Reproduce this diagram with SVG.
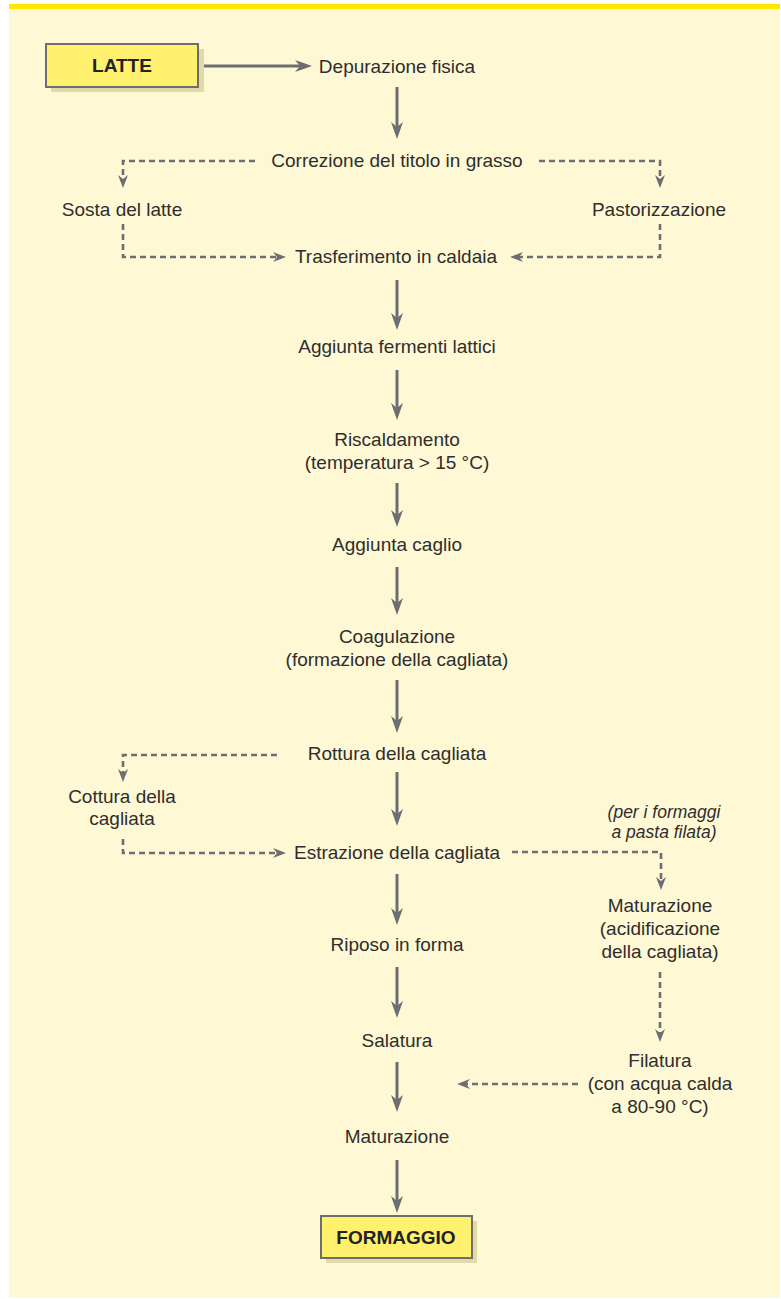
<svg xmlns="http://www.w3.org/2000/svg" width="781" height="1299" viewBox="0 0 781 1299">
<style>
.t{font-family:"Liberation Sans",Arial,sans-serif;font-size:19px;fill:#2e2e2e;text-anchor:middle}
.i{font-style:italic;font-size:17.5px}
.b{font-family:"Liberation Sans",Arial,sans-serif;font-size:19px;font-weight:bold;fill:#222;text-anchor:middle}
.box{fill:#FFF06E;stroke:#6D6E71;stroke-width:2}
.sh{fill:#E2DAA6}
.s{stroke:#6D6E71;stroke-width:3;fill:none}
.d{stroke:#6D6E71;stroke-width:2.6;fill:none;stroke-dasharray:6 4}
</style>
<defs>
<marker id="ah" markerUnits="userSpaceOnUse" viewBox="0 0 17 12" refX="7" refY="6" markerWidth="17" markerHeight="12" orient="auto">
<path d="M0,0 L17,6 L0,12 L5,6 z" fill="#6D6E71"/>
</marker>
<marker id="ad" markerUnits="userSpaceOnUse" viewBox="0 0 13 10" refX="5" refY="5" markerWidth="13" markerHeight="10" orient="auto">
<path d="M0,0 L13,5 L0,10 L4,5 z" fill="#6D6E71"/>
</marker>
</defs>
<rect x="9" y="4" width="771" height="1294" fill="#FFF8D5"/>
<rect x="9" y="4" width="771" height="5" fill="#FFE500"/>

<g id="connectors">
<line class="s" x1="198" y1="66" x2="302" y2="66" marker-end="url(#ah)"/>
<line class="s" x1="397" y1="87" x2="397" y2="129" marker-end="url(#ah)"/>
<path class="d" d="M255,161 H123 V180" marker-end="url(#ad)"/>
<path class="d" d="M539,161 H660 V180" marker-end="url(#ad)"/>
<path class="d" d="M123,224 V257 H278" marker-end="url(#ad)"/>
<path class="d" d="M660,224 V257 H518" marker-end="url(#ad)"/>
<line class="s" x1="397" y1="280" x2="397" y2="320" marker-end="url(#ah)"/>
<line class="s" x1="397" y1="370" x2="397" y2="410" marker-end="url(#ah)"/>
<line class="s" x1="397" y1="483" x2="397" y2="517" marker-end="url(#ah)"/>
<line class="s" x1="397" y1="567" x2="397" y2="605" marker-end="url(#ah)"/>
<line class="s" x1="397" y1="680" x2="397" y2="723" marker-end="url(#ah)"/>
<path class="d" d="M277,755 H123 V774" marker-end="url(#ad)"/>
<line class="s" x1="397" y1="772" x2="397" y2="816" marker-end="url(#ah)"/>
<path class="d" d="M123,839 V853 H278" marker-end="url(#ad)"/>
<path class="d" d="M512,852 H661 V882" marker-end="url(#ad)"/>
<line class="s" x1="397" y1="874" x2="397" y2="915" marker-end="url(#ah)"/>
<path class="d" d="M660,972 V1034" marker-end="url(#ad)"/>
<line class="s" x1="397" y1="967" x2="397" y2="1008" marker-end="url(#ah)"/>
<path class="d" d="M578,1084 H465" marker-end="url(#ad)"/>
<line class="s" x1="397" y1="1062" x2="397" y2="1102" marker-end="url(#ah)"/>
<line class="s" x1="397" y1="1160" x2="397" y2="1203" marker-end="url(#ah)"/>
</g>

<g id="latte">
<rect class="sh" x="51" y="49" width="153" height="43"/>
<rect class="box" x="46" y="44" width="152" height="43"/>
<text class="b" x="122" y="72">LATTE</text>
</g>
<g id="depurazione"><text class="t" x="397" y="73">Depurazione fisica</text></g>
<g id="correzione"><text class="t" x="397" y="167">Correzione del titolo in grasso</text></g>
<g id="sosta"><text class="t" x="122" y="216">Sosta del latte</text></g>
<g id="pastorizzazione"><text class="t" x="659" y="216">Pastorizzazione</text></g>
<g id="trasferimento"><text class="t" x="396" y="263">Trasferimento in caldaia</text></g>
<g id="fermenti"><text class="t" x="397" y="353">Aggiunta fermenti lattici</text></g>
<g id="riscaldamento"><text class="t" x="397" y="446">Riscaldamento</text><text class="t" x="397" y="469">(temperatura &gt; 15 °C)</text></g>
<g id="caglio"><text class="t" x="397" y="551">Aggiunta caglio</text></g>
<g id="coagulazione"><text class="t" x="397" y="643">Coagulazione</text><text class="t" x="397" y="666">(formazione della cagliata)</text></g>
<g id="rottura"><text class="t" x="397" y="760">Rottura della cagliata</text></g>
<g id="cottura"><text class="t" x="122" y="803">Cottura della</text><text class="t" x="122" y="825">cagliata</text></g>
<g id="nota"><text class="t i" x="664" y="818">(per i formaggi</text><text class="t i" x="664" y="838">a pasta filata)</text></g>
<g id="estrazione"><text class="t" x="397" y="859">Estrazione della cagliata</text></g>
<g id="maturazione2"><text class="t" x="660" y="912">Maturazione</text><text class="t" x="660" y="935">(acidificazione</text><text class="t" x="660" y="958">della cagliata)</text></g>
<g id="riposo"><text class="t" x="397" y="951">Riposo in forma</text></g>
<g id="salatura"><text class="t" x="397" y="1047">Salatura</text></g>
<g id="filatura"><text class="t" x="660" y="1067">Filatura</text><text class="t" x="660" y="1090">(con acqua calda</text><text class="t" x="660" y="1113">a 80-90 °C)</text></g>
<g id="maturazione"><text class="t" x="397" y="1143">Maturazione</text></g>
<g id="formaggio">
<rect class="sh" x="326" y="1221" width="151" height="42"/>
<rect class="box" x="321" y="1216" width="151" height="42"/>
<text class="b" x="396" y="1244">FORMAGGIO</text>
</g>
</svg>
